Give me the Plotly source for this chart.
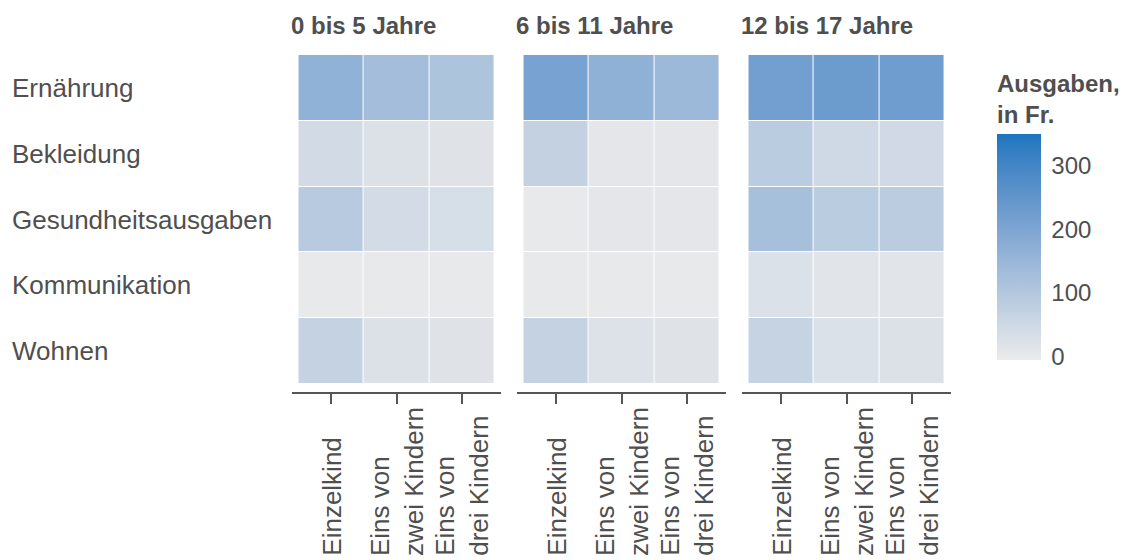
import numpy as np
import plotly.graph_objects as go

# ---------------- data ----------------
panels = ["0 bis 5 Jahre", "6 bis 11 Jahre", "12 bis 17 Jahre"]
columns = ["Einzelkind", "Eins von<br>zwei Kindern", "Eins von<br>drei Kindern"]
rows = ["Ernährung", "Bekleidung", "Gesundheitsausgaben", "Kommunikation", "Wohnen"]

# Ausgaben in Fr., rows x columns
vals_0_5 = [
    [163, 130, 111],
    [43, 23, 17],
    [93, 41, 33],
    [0, 0, 0],
    [67, 23, 17],
]
vals_6_11 = [
    [211, 165, 141],
    [70, 8, 8],
    [0, 8, 8],
    [0, 0, 0],
    [67, 22, 17],
]
vals_12_17 = [
    [219, 230, 225],
    [86, 47, 46],
    [124, 86, 85],
    [25, 13, 13],
    [65, 24, 23],
]
panel_values = [vals_0_5, vals_6_11, vals_12_17]
colorbar_ticks = [0, 100, 200, 300]

# ---------------- colour scale ----------------
def hex_to_rgb(h):
    h = h.lstrip("#")
    return np.array([int(h[i:i + 2], 16) for i in (0, 2, 4)], dtype=float) / 255.0

def srgb_to_lin(c):
    return np.where(c <= 0.04045, c / 12.92, ((c + 0.055) / 1.055) ** 2.4)

def lin_to_srgb(c):
    c = np.clip(c, 0, 1)
    return np.where(c <= 0.0031308, 12.92 * c, 1.055 * c ** (1 / 2.4) - 0.055)

M = np.array([[0.4124, 0.3576, 0.1805], [0.2126, 0.7152, 0.0722], [0.0193, 0.1192, 0.9505]])
Minv = np.linalg.inv(M)
WP = np.array([0.95047, 1.0, 1.08883])

def f(t):
    d = 6 / 29
    return np.where(t > d ** 3, np.cbrt(t), t / (3 * d * d) + 4 / 29)

def finv(t):
    d = 6 / 29
    return np.where(t > d, t ** 3, 3 * d * d * (t - 4 / 29))

def rgb_to_lab(rgb):
    xyz = M @ srgb_to_lin(rgb) / WP
    fx, fy, fz = f(xyz)
    return np.array([116 * fy - 16, 500 * (fx - fy), 200 * (fy - fz)])

def lab_to_rgb(lab):
    L, a, b = lab
    fy = (L + 16) / 116
    fx = fy + a / 500
    fz = fy - b / 200
    xyz = np.array([finv(fx), finv(fy), finv(fz)]) * WP
    return lin_to_srgb(Minv @ xyz)

low_rgb, high_rgb = hex_to_rgb("#EBEBEB"), hex_to_rgb("#1B75BF")
low, high = rgb_to_lab(low_rgb), rgb_to_lab(high_rgb)
colorscale = []
for t in np.linspace(0, 1, 21):
    c_lab = lab_to_rgb(low + (high - low) * t)
    c_rgb = low_rgb + (high_rgb - low_rgb) * t
    r, g, b = ((c_lab + c_rgb) / 2 * 255).round().astype(int)
    colorscale.append([float(t), f"rgb({r},{g},{b})"])

# ---------------- figure ----------------
# the page body adds an 8px offset, so the figure is laid out in page coords - 8
OFF = 8
W, H = 1127 - OFF, 560 - OFF
ML, MT = 292 - OFF, 48 - OFF
PLOT_BOTTOM = 392 - OFF
PLOT_RIGHT = 951 - OFF
MR, MB = W - PLOT_RIGHT, H - PLOT_BOTTOM
pw = W - ML - MR
ph = H - MT - MB
panel_px = [(292, 501), (517, 726), (742, 951)]
domains = [[(a - OFF - ML) / pw, (b - OFF - ML) / pw] for a, b in panel_px]

TXT = "#4f4f4f"
FONT = "Liberation Sans, Arial, sans-serif"
AX = "#555555"

fig = go.Figure()
for i, vals in enumerate(panel_values):
    s = "" if i == 0 else str(i + 1)
    fig.add_trace(go.Heatmap(
        z=vals, x=columns, y=rows, coloraxis="coloraxis",
        xgap=1, ygap=1, xaxis="x" + s, yaxis="y" + s,
        hovertemplate="%{y}<br>%{x}<br>%{z} Fr.<extra></extra>",
    ))
    fig.layout["xaxis" + s] = dict(
        domain=domains[i], anchor="y" + s, type="category",
        range=[-0.6, 2.6], showline=True, linecolor=AX, linewidth=2,
        ticks="outside", ticklen=10, tickwidth=2, tickcolor=AX,
        showticklabels=False, showgrid=False, zeroline=False, fixedrange=True,
    )
    fig.layout["yaxis" + s] = dict(
        domain=[0, 1], anchor="x" + s, type="category",
        range=[4.62, -0.606], showline=False, ticks="", showticklabels=False,
        showgrid=False, zeroline=False, fixedrange=True,
    )
    # facet title
    fig.add_annotation(
        text=f"<b>{panels[i]}</b>", xref="paper", yref="paper",
        x=domains[i][0] - 3 / pw, y=1 + (MT - (26 - OFF)) / ph, xanchor="left", yanchor="middle",
        showarrow=False, font=dict(size=24, color=TXT, family=FONT),
    )
    # column labels (rotated, lines start at the bottom)
    for c in columns:
        fig.add_annotation(
            text=c, xref="x" + s, yref="paper", x=c,
            y=-((558 - OFF) - PLOT_BOTTOM) / ph,
            xanchor="center", yanchor="bottom", textangle=-90, align="left",
            showarrow=False, font=dict(size=26, color=TXT, family=FONT),
        )

# row labels (left aligned)
for r in rows:
    fig.add_annotation(
        text=r, xref="paper", yref="y", x=(2 - ML) / pw, y=r,
        xanchor="left", yanchor="middle", showarrow=False,
        font=dict(size=26, color=TXT, family=FONT),
    )

cb_top, cb_bottom = 71 - OFF, 360 - OFF
fig.update_layout(
    width=W, height=H,
    margin=dict(l=ML, r=MR, t=MT, b=MB, autoexpand=False),
    paper_bgcolor="white", plot_bgcolor="white",
    font=dict(family=FONT, color=TXT),
    coloraxis=dict(
        colorscale=colorscale, cmin=-6, cmax=350,
        colorbar=dict(
            title=dict(text="<b>Ausgaben,<br>in Fr.</b>", side="top",
                       font=dict(size=24, color=TXT, family=FONT)),
            x=((997 - OFF) - ML) / pw, xanchor="left", xpad=0,
            y=(PLOT_BOTTOM - (cb_top + cb_bottom) / 2) / ph, yanchor="middle", ypad=0,
            len=cb_bottom - cb_top, lenmode="pixels", thickness=44, thicknessmode="pixels",
            outlinewidth=0, tickvals=colorbar_ticks, ticks="outside", ticklen=6,
            tickcolor="rgba(0,0,0,0)",
            tickfont=dict(size=24, color=TXT, family=FONT),
        ),
    ),
    showlegend=False,
)

fig.write_html("out.html")
